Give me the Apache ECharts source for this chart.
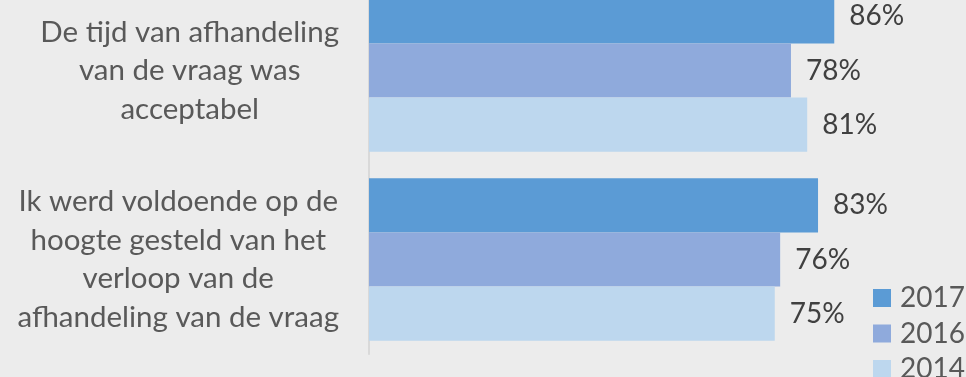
<!DOCTYPE html>
<html>
<head>
<meta charset="utf-8">
<script src="https://cdn.jsdelivr.net/npm/echarts@6/dist/echarts.min.js"></script>
<style>
html,body{margin:0;padding:0;background:#ececec;overflow:hidden;}
#c{position:absolute;left:0;top:-24px;width:966px;height:401px;}
</style>
</head>
<body>
<div id="c"></div>
<script>
const categories = [
  ["De tijd van afhandeling", "van de vraag was", "acceptabel"],
  ["Ik werd voldoende op de", "hoogte gesteld van het", "verloop van de", "afhandeling van de vraag"]
];
const seriesNames = ["2017", "2016", "2014"];
const values2017 = [86, 83];
const values2016 = [78, 76];
const values2014 = [81, 75];
const colors = ["#5b9bd5", "#8faadc", "#bdd7ee"];

const FONT = "Lato";
const catLabels = categories.map(l => l.join("\n"));
const allValues = [values2017, values2016, values2014];

const chart = echarts.init(document.getElementById('c'));
chart.setOption({
  backgroundColor: '#ececec',
  animation: false,
  textStyle: { fontFamily: FONT },
  grid: { left: 369, width: 541, top: 0, height: 378, containLabel: false },
  legend: {
    orient: 'vertical',
    left: 873,
    top: 307,
    height: 120,
    padding: 0,
    icon: 'rect',
    itemWidth: 18,
    itemHeight: 18,
    itemGap: 5.5,
    data: seriesNames,
    textStyle: { fontFamily: FONT, fontSize: 28, color: '#595959', lineHeight: 30, padding: [0, 0, 0, 4] }
  },
  xAxis: {
    type: 'value', min: 0, max: 100, show: false
  },
  yAxis: {
    type: 'category',
    inverse: true,
    data: catLabels,
    axisLine: { lineStyle: { color: '#d9d9d9', width: 2 } },
    axisTick: { length: 10, lineStyle: { color: '#d9d9d9', width: 2 } },
    axisLabel: {
      margin: 30,
      formatter: v => v.split("\n").map(s => '{c|' + s + '}').join("\n"),
      rich: { c: { align: 'center', fontFamily: FONT, fontSize: 29.5, lineHeight: 38.5, color: '#595959' } }
    }
  },
  series: seriesNames.map((n, i) => ({
    name: n,
    type: 'bar',
    data: allValues[i],
    barGap: '0%',
    barCategoryGap: '14%',
    itemStyle: { color: colors[i] },
    label: {
      show: true, position: 'right', distance: 15,
      formatter: '{c}%', fontFamily: FONT, fontSize: 28, color: '#404040'
    }
  }))
});
</script>
</body>
</html>
